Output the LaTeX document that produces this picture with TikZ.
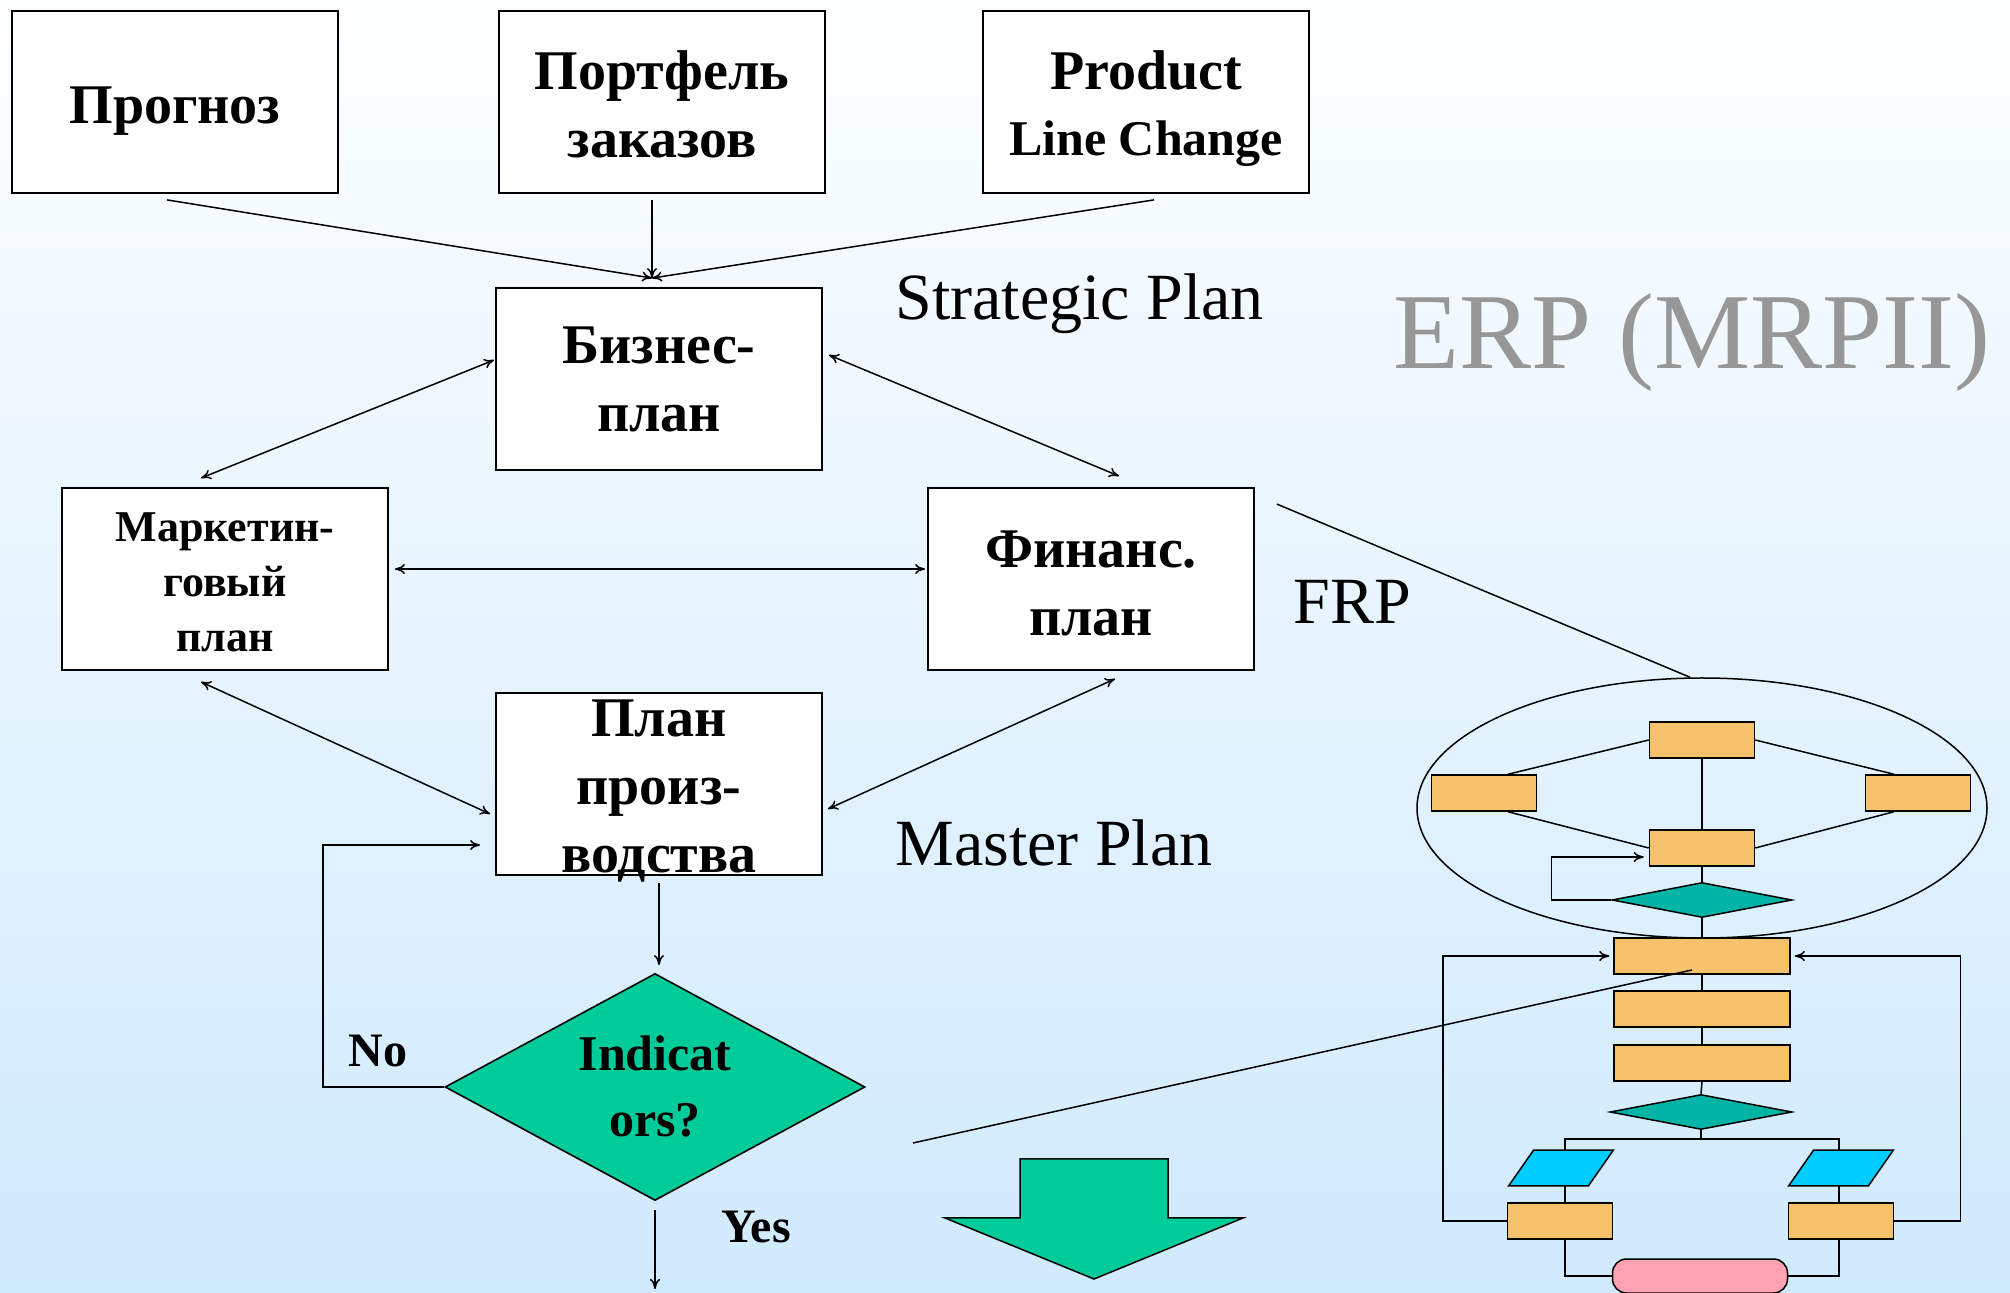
\documentclass[tikz,border=0pt]{standalone}
\usepackage{fontspec}
\setmainfont{Liberation Serif}
\usetikzlibrary{shapes.geometric,arrows.meta}
\definecolor{bgtop}{HTML}{FCFEFF}
\definecolor{bgbot}{HTML}{D0EAFD}
\definecolor{indgreen}{HTML}{00CC99}
\definecolor{morange}{HTML}{F5C16B}
\definecolor{mteal}{HTML}{00B5A5}
\definecolor{mcyan}{HTML}{00CCFF}
\definecolor{mpink}{HTML}{FFA3B3}
\definecolor{erpgray}{HTML}{979797}
\newcommand{\dnline}[2]{\raisebox{-#1}[\height][\depth]{#2}}

\begin{document}
\begin{tikzpicture}[
				      x=0.5pt, y=-0.5pt,
				      >={To[length=5pt,width=5pt]},
				      box/.style = {shape=rectangle, draw, line width=0.9pt,
						      fill=white, align=center, inner sep=0pt,
						      minimum width=163pt, minimum height=91pt,
						      font=\fontsize{28}{34}\selectfont\bfseries},
				      indbox/.style = {shape=diamond, draw, line width=0.8pt,
						      fill=indgreen, align=center, inner sep=0pt, shape aspect=1.85,
						      minimum width=210pt, minimum height=113.5pt,
						      font=\fontsize{25}{33}\selectfont\bfseries},
				      plain/.style = {font=\fontsize{33}{38}\selectfont, anchor=base west, inner sep=0pt},
				      boldlbl/.style = {font=\fontsize{24}{28}\selectfont\bfseries, anchor=base west, inner sep=0pt},
				      link/.style = {line width=0.75pt},
				      mini/.style = {draw, line width=0.75pt, inner sep=0pt},
				      mrect/.style = {mini, shape=rectangle, fill=morange,
						      minimum width=52.5pt, minimum height=18pt},
				      mwide/.style = {mrect, minimum width=88pt},
				      mdiam/.style = {mini, shape=diamond, fill=mteal,
						      minimum width=90pt, minimum height=17.5pt},
				      mpar/.style = {shape=rectangle, inner sep=0pt,
						      minimum width=52pt, minimum height=17.5pt}
			      ]

			      \shade[top color=bgtop, bottom color=bgbot] (0,0) rectangle (2010,1293);
			      \useasboundingbox (0,0) rectangle (2010,1293);
			      \clip (0,0) rectangle (2010,1293);

			      \node[box] (prognoz) at (175,102) {\dnline{4.5pt}{Прогноз}};
			      \node[box] (portf) at (662,102) {\dnline{1pt}{Портфель}\\\dnline{1pt}{заказов}};
			      \node[box] (plc) at (1146,102) {\dnline{4pt}{Product}\\{\fontsize{25}{32}\selectfont\dnline{3pt}{Line Change}}};
			      \node[box] (biz) at (659,379) {Бизнес-\\план};
			      \node[box, font=\fontsize{22}{27.5}\selectfont\bfseries] (mark) at (225,579) {\dnline{1.5pt}{Маркетин-}\\\dnline{1.5pt}{говый}\\\dnline{1.5pt}{план}};
			      \node[box] (fin) at (1091,579) {\dnline{2pt}{Финанс.}\\\dnline{2pt}{план}};
			      \node[box] (prod) at (659,784) {\dnline{3.5pt}{План}\\\dnline{3.5pt}{произ-}\\\dnline{3.5pt}{водства}};
			      \node[indbox] (ind) at (655,1087) {Indicat\\ors?};
			      \coordinate (yesend) at (655,1289);
			      \coordinate (bizin) at ([xshift=-3.5pt,yshift=4.5pt]biz.north);

			      \node[plain] (strat) at (895,320) {Strategic Plan};
			      \node[plain] (master) at (895,866) {Master Plan};
			      \node[plain] (frp) at (1293,624) {FRP};
			      \node[plain, font=\fontsize{54}{60}\selectfont, text=erpgray] (erp) at (1393,369) {ERP (MRPII)};
			      \node[boldlbl] (no) at (348,1067) {No};
			      \node[boldlbl] (yes) at (721,1242) {Yes};

			      \draw[link, ->] ([xshift=-4pt,yshift=-3pt]prognoz.south) -- (bizin);
			      \draw[link, ->] ([xshift=-5pt,yshift=-3pt]portf.south) -- (bizin);
			      \draw[link, ->] ([xshift=4pt,yshift=-3pt]plc.south) -- (bizin);
			      \draw[link, <->] ([xshift=-0.5pt,yshift=9.5pt]biz.west) -- ([xshift=-12pt,yshift=4.5pt]mark.north);
			      \draw[link, <->] ([xshift=3pt,yshift=12pt]biz.east) -- ([xshift=14pt,yshift=5.5pt]fin.north);
			      \draw[link, <->] ([xshift=3pt,yshift=5pt]mark.east) -- ([xshift=-1pt,yshift=5pt]fin.west);
			      \draw[link, <->] ([xshift=-12pt,yshift=-5.5pt]mark.south) -- ([xshift=-2.5pt,yshift=-15pt]prod.west);
			      \draw[link, <->] ([xshift=12pt,yshift=-4pt]fin.south) -- ([xshift=2.5pt,yshift=-12.5pt]prod.east);
			      \draw[link, ->] ([yshift=-3.5pt]prod.south) -- ++(0,82);
			      \draw[link, ->] (ind.west) -- ++(-121,0) |- ([xshift=-7.5pt,yshift=-30.5pt]prod.west);
			      \draw[link, ->] ([yshift=-4.5pt]ind.south) -- (yesend);

			      \draw[fill=indgreen, line width=0.75pt] (1020,1159) -- (1168,1159) -- (1168,1218) -- (1243,1218)
			      -- (1094,1279) -- (945,1218) -- (1020,1218) -- cycle;

			      \node[mini, shape=ellipse, minimum width=285pt, minimum height=130pt] (erpell) at (1702,808) {};
			      \node[mrect] (mt) at (1702,740) {};
			      \node[mrect] (ml) at (1484,793) {};
			      \node[mrect] (mr) at (1918,793) {};
			      \node[mrect] (mm) at (1702,848) {};
			      \node[mdiam] (md1) at (1702,900) {};
			      \node[mwide] (r1) at (1702,956) {};
			      \node[mwide] (r2) at (1702,1009) {};
			      \node[mwide] (r3) at (1702,1063) {};
			      \node[mdiam, minimum width=91pt] (md2) at (1701,1112) {};
			      \node[mpar] (pl) at (1561,1168) {};
			      \node[mpar] (pr) at (1841,1168) {};
			      \node[mrect] (bl) at (1560,1221) {};
			      \node[mrect] (br) at (1841,1221) {};
			      \node[mini, fill=mpink, rounded corners=7pt, minimum width=87.5pt, minimum height=17pt] (pink) at (1700,1276) {};
			      \foreach \p in {pl,pr}
			      \draw[mini, fill=mcyan] (\p.south west) -- ([xshift=-12.5pt]\p.south east)
			      -- (\p.north east) -- ([xshift=12.5pt]\p.north west) -- cycle;

			      \draw[link] (mt.west) -- ([xshift=12pt]ml.north);
			      \draw[link] ([xshift=12pt]ml.south) -- (mm.west);
			      \draw[link] (mt.east) -- ([xshift=-12pt]mr.north);
			      \draw[link] ([xshift=-12pt]mr.south) -- (mm.east);
			      \draw[link] (mt.south) -- (mm.north);
			      \draw[link] (mm.south) -- (md1.north);
			      \draw[link] (md1.south) -- (r1.north);
			      \draw[link, ->] (md1.west) -- ++(-60,0) |- ([xshift=-2.5pt,yshift=-4.5pt]mm.west);
			      \draw[link] (r1.south) -- (r2.north);
			      \draw[link] (r2.south) -- (r3.north);
			      \draw[link] (r3.south) -- (md2.north);
			      \draw[link] (md2.south) -- ++(0,9) coordinate (msplit) -| ([xshift=2pt]pl.north) (msplit) -| ([xshift=-1pt]pr.north);
			      \draw[link] ([xshift=2pt]pl.south) -- ([xshift=2.5pt]bl.north);
			      \draw[link] ([xshift=-1pt]pr.south) -- ([xshift=-1pt]br.north);
			      \draw[link, ->] (bl.west) -- ++(-64,0) |- ([xshift=-2pt]r1.west);
			      \draw[link, ->] (br.east) -- ++(66,0) |- ([xshift=2pt]r1.east);
			      \draw[link] ([xshift=2.5pt]bl.south) |- (pink.west);
			      \draw[link] ([xshift=-1pt]br.south) |- (pink.east);

			      \draw[link] ([xshift=11pt,yshift=-8.5pt]fin.north east) -- ([xshift=-6pt]erpell.north);
			      \coordinate (mlink) at (913,1143);
			      \draw[link] (mlink) -- ([xshift=-5pt,yshift=-7pt]r1.center);
		      \end{tikzpicture}
\end{document}
